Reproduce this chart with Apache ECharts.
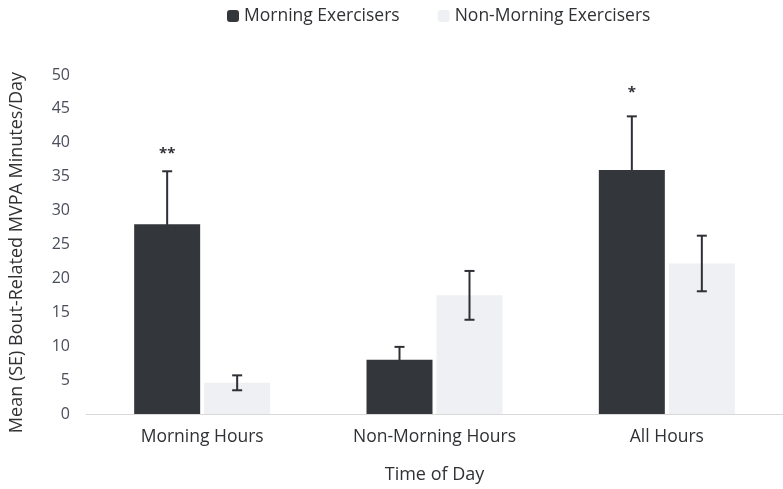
<!DOCTYPE html>
<html><head><meta charset="utf-8">
<script src="https://cdn.jsdelivr.net/npm/echarts@6/dist/echarts.min.js"></script>
<style>html,body{margin:0;padding:0;background:#fff}#c{width:783px;height:489px}</style>
</head><body><div id="c"></div>
<script>
const categories = ['Morning Hours', 'Non-Morning Hours', 'All Hours'];
const seriesNames = ['Morning Exercisers', 'Non-Morning Exercisers'];
const morningMeans = [28.0, 8.0, 36.0];
const morningSE = [7.8, 1.9, 7.9];
const nonMorningMeans = [4.6, 17.5, 22.2];
const nonMorningSE = [1.1, 3.6, 4.1];
const morningSig = ['**', '', '*'];
const yTicks = [0, 5, 10, 15, 20, 25, 30, 35, 40, 45, 50];

const FONT = 'Open Sans';
const TXT = '#4a4e5c';
const DARK = '#2f3134';
const BAR_W = 66, GAP = 4;

function errData(means, se, sig) {
  return means.map((m, i) => [i, m, m - se[i], m + se[i], sig ? sig[i] : '']);
}
function errRender(side) {
  return function (params, api) {
    const c = api.coord([api.value(0), api.value(1)]);
    const x = c[0] + side * (BAR_W / 2 + GAP / 2);
    const lo = api.coord([api.value(0), api.value(2)])[1];
    const hi = api.coord([api.value(0), api.value(3)])[1];
    const st = { stroke: '#2e3035', lineWidth: 2 };
    const children = [
      { type: 'line', shape: { x1: x, y1: lo, x2: x, y2: hi }, style: st },
      { type: 'line', shape: { x1: x - 5, y1: hi, x2: x + 5, y2: hi }, style: st },
      { type: 'line', shape: { x1: x - 5, y1: lo, x2: x + 5, y2: lo }, style: st }
    ];
    const s = api.value(4);
    if (s) children.push({ type: 'text', style: { text: s, x: x, y: hi - (s.length > 1 ? 10 : 16), align: 'center', verticalAlign: 'bottom', fontSize: 15, fontWeight: 'bold', fill: '#2e3035', fontFamily: FONT } });
    return { type: 'group', children };
  };
}

const chart = echarts.init(document.getElementById('c'));
chart.setOption({
  animation: false,
  textStyle: { fontFamily: FONT },
  legend: {
    data: seriesNames, top: 2, left: 222, itemWidth: 12, itemHeight: 12, itemGap: 38,
    textStyle: { fontSize: 17.5, color: DARK, fontFamily: FONT }
  },
  grid: { left: 86, right: 0, top: 75, bottom: 72 },
  xAxis: {
    type: 'category', data: categories,
    axisLine: { lineStyle: { color: '#d9d9d9', width: 1 } },
    axisTick: { show: false },
    axisLabel: { fontSize: 17.5, color: DARK, margin: 14, fontFamily: FONT },
    name: 'Time of Day', nameLocation: 'middle', nameGap: 52,
    nameTextStyle: { fontSize: 18, color: DARK, fontFamily: FONT }
  },
  yAxis: {
    type: 'value', min: yTicks[0], max: yTicks[yTicks.length - 1], interval: 5,
    splitLine: { show: false }, axisLine: { show: false }, axisTick: { show: false },
    axisLabel: { fontSize: 16, color: TXT, margin: 16, fontFamily: FONT },
    name: 'Mean (SE) Bout-Related MVPA Minutes/Day', nameLocation: 'middle', nameGap: 60,
    nameTextStyle: { fontSize: 18, color: DARK, fontFamily: FONT, padding: [0, 16, 0, 0] }
  },
  series: [
    { name: seriesNames[0], type: 'bar', data: morningMeans, barWidth: BAR_W, barGap: (GAP / BAR_W * 100) + '%', itemStyle: { color: '#33363a' }, z: 3 },
    { name: seriesNames[1], type: 'bar', data: nonMorningMeans, barWidth: BAR_W, itemStyle: { color: '#eef0f3' }, z: 2 },
    { type: 'custom', renderItem: errRender(-1), data: errData(morningMeans, morningSE, morningSig), z: 1, silent: true },
    { type: 'custom', renderItem: errRender(1), data: errData(nonMorningMeans, nonMorningSE), z: 10, silent: true }
  ]
});
</script></body></html>
